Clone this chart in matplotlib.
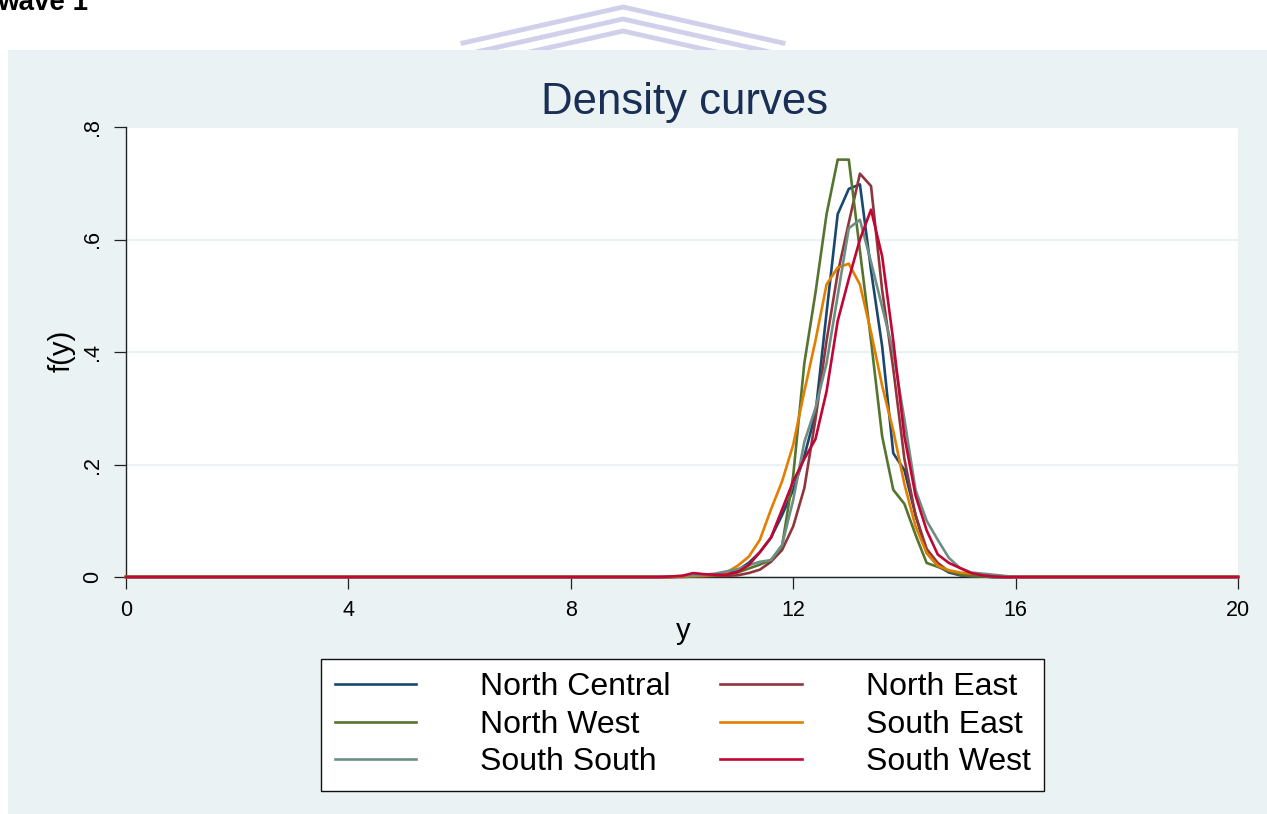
import numpy as np
import matplotlib
matplotlib.use("Agg")
import matplotlib.pyplot as plt
from matplotlib.lines import Line2D
from matplotlib.patches import Rectangle

plt.rcParams['font.family'] = ['Liberation Sans', 'DejaVu Sans']

# density estimates evaluated on a 0.2 grid, non-zero window 9.8 .. 16.0
x_grid = np.round(np.arange(0, 20.001, 0.2), 1)
window_start = 9.8

regions = ['North Central', 'North East', 'North West',
           'South East', 'South South', 'South West']
colors = ['#1A476F', '#90353B', '#55752F', '#E37E00', '#6E8E84', '#C10534']

north_central = [0.0, 0.001, 0.002, 0.004, 0.004, 0.006, 0.012, 0.025, 0.044, 0.07, 0.11,
                 0.155, 0.215, 0.29, 0.47, 0.645, 0.69, 0.698, 0.545, 0.41, 0.22, 0.19,
                 0.11, 0.043, 0.02, 0.008, 0.003, 0.001, 0.001, 0.0, 0.0, 0.0]
north_east = [0.0, 0.0, 0.001, 0.001, 0.002, 0.002, 0.003, 0.007, 0.013, 0.027, 0.048,
              0.09, 0.158, 0.28, 0.42, 0.54, 0.63, 0.717, 0.695, 0.51, 0.37, 0.21,
              0.11, 0.05, 0.025, 0.01, 0.004, 0.002, 0.001, 0.0, 0.0, 0.0]
north_west = [0.0, 0.001, 0.001, 0.002, 0.003, 0.005, 0.008, 0.015, 0.022, 0.03, 0.055,
              0.18, 0.38, 0.505, 0.645, 0.742, 0.742, 0.58, 0.42, 0.25, 0.155, 0.13,
              0.075, 0.025, 0.018, 0.01, 0.004, 0.002, 0.001, 0.0, 0.0, 0.0]
south_east = [0.0, 0.001, 0.002, 0.003, 0.004, 0.008, 0.02, 0.036, 0.066, 0.12, 0.17,
              0.235, 0.33, 0.42, 0.52, 0.55, 0.557, 0.52, 0.435, 0.34, 0.26, 0.165,
              0.09, 0.043, 0.02, 0.012, 0.008, 0.006, 0.005, 0.003, 0.001, 0.0]
south_south = [0.001, 0.002, 0.003, 0.004, 0.006, 0.01, 0.014, 0.021, 0.027, 0.03, 0.057,
               0.137, 0.24, 0.30, 0.38, 0.50, 0.62, 0.635, 0.56, 0.48, 0.40, 0.28,
               0.155, 0.10, 0.066, 0.034, 0.016, 0.008, 0.006, 0.004, 0.002, 0.0]
south_west = [0.001, 0.002, 0.007, 0.005, 0.004, 0.004, 0.009, 0.021, 0.044, 0.07, 0.12,
              0.17, 0.21, 0.245, 0.33, 0.455, 0.53, 0.60, 0.653, 0.57, 0.42, 0.25,
              0.145, 0.083, 0.04, 0.025, 0.016, 0.007, 0.003, 0.001, 0.0, 0.0]
series = [north_central, north_east, north_west, south_east, south_south, south_west]

x_ticks = [0, 4, 8, 12, 16, 20]
y_ticks = [0, 0.2, 0.4, 0.6, 0.8]
y_tick_labels = ['0', '.2', '.4', '.6', '.8']

W, H = 1267, 814
fig = plt.figure(figsize=(W / 100, H / 100), dpi=100, facecolor='white')

# pale graph region
fig.patches.append(Rectangle((8 / W, -0.01), 1.0, 1.01 - 50 / H, transform=fig.transFigure,
                             facecolor='#EAF2F3', edgecolor='none', zorder=-1))

# faint logo watermark behind the graph region
for dy in [7, 19, 31]:
    xs = np.array([463, 623, 783]) / W
    ys = 1 - np.array([dy + 36, dy, dy + 36]) / H
    fig.add_artist(Line2D(xs, ys, transform=fig.transFigure, color='#D0D0EA',
                          lw=3.5, zorder=-2))

ax = fig.add_axes([126 / W, 1 - 577 / H, 1112 / W, 450 / H])
ax.set_facecolor('white')

start = int(round(window_start / 0.2))
for name, col, vals in zip(regions, colors, series):
    y = np.zeros_like(x_grid)
    y[start:start + len(vals)] = vals
    ax.plot(x_grid, y, color=col, lw=1.9, label=name, clip_on=False, zorder=3)

ax.set_xlim(0, 20)
ax.set_ylim(0, 0.8)
ax.set_xticks(x_ticks)
ax.set_xticklabels([str(t) for t in x_ticks], fontsize=15.5)
ax.set_yticks(y_ticks)
ax.set_yticklabels(y_tick_labels, fontsize=15.5, rotation=90, va='center')
ax.tick_params(length=8.5, width=0.9, color='#222222', pad=8)
ax.yaxis.grid(True, color='#EAF2F3', lw=1.6)
ax.set_axisbelow(True)
for s in ['top', 'right']:
    ax.spines[s].set_visible(False)
for s in ['left', 'bottom']:
    ax.spines[s].set_color('#222222')
    ax.spines[s].set_linewidth(1.0)

fig.text(685 / W, 1 - 114 / H, 'Density curves', ha='center', va='baseline',
         fontsize=31.5, color='#1A2F55')
fig.text(62 / W, 1 - 351 / H, 'f(y)', ha='center', va='center', rotation=90, fontsize=21)
fig.text(683 / W, 1 - 639 / H, 'y', ha='center', va='baseline', fontsize=21)
fig.text(-3 / W, 1 - 10 / H, 'wave 1', ha='left', va='baseline', fontsize=20,
         fontweight='bold')

handles = ax.get_lines()
order = [0, 2, 4, 1, 3, 5]
leg = fig.legend([handles[i] for i in order], [regions[i] for i in order],
                 loc='upper center', bbox_to_anchor=(682.5 / W, 1 - 659 / H),
                 ncol=2, fontsize=23, frameon=True, fancybox=False,
                 handlelength=2.55, handletextpad=2.0, columnspacing=1.56,
                 labelspacing=0.23, borderpad=0.42, borderaxespad=0)
leg.get_frame().set_edgecolor('#111111')
leg.get_frame().set_linewidth(1.0)
leg.get_frame().set_alpha(1)

fig.savefig('out.png', dpi=100, facecolor='white')
